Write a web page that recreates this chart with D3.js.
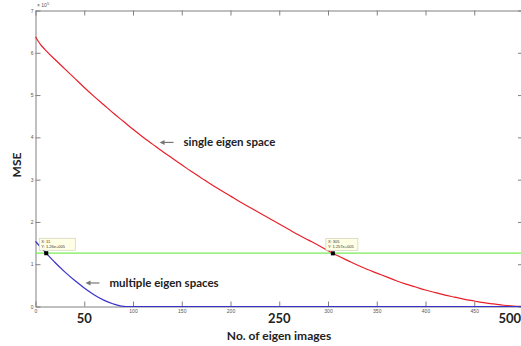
<!DOCTYPE html>
<html><head><meta charset="utf-8">
<script src="https://cdn.jsdelivr.net/npm/d3@7"></script>
<style>body{margin:0;background:#fff;overflow:hidden}</style>
</head><body><svg id="c" width="521" height="346"></svg>
<script>
// ---- data (MSE in units of 1e5) ----
const singleX = [0,5,10,20,30,40,50,60,70,80,90,100,110,120,130,140,150,160,170,180,190,200,210,220,230,240,250,260,270,280,290,300,305,310,320,330,340,350,360,370,380,390,400,410,420,430,440,450,460,470,480,490,500];
const singleY = [6.38,6.20,6.07,5.84,5.62,5.40,5.18,4.97,4.77,4.57,4.38,4.19,4.01,3.84,3.67,3.51,3.35,3.19,3.04,2.89,2.75,2.61,2.47,2.34,2.21,2.08,1.95,1.82,1.69,1.57,1.45,1.32,1.257,1.20,1.09,0.98,0.88,0.79,0.70,0.61,0.53,0.46,0.39,0.33,0.27,0.22,0.17,0.13,0.09,0.06,0.03,0.01,0];
const multiX = [0,5,11,20,30,40,50,60,70,80,88,93,150,250,350,450,500];
const multiY = [1.54,1.41,1.26,1.04,0.82,0.62,0.44,0.28,0.15,0.06,0.01,0,0,0,0,0,0];
const thresholdY = 1.26;
const tipX = [11,305];
const tipY = [1.26,1.257];
const tipText = [["X: 11","Y: 1.26e+005"],["X: 305","Y: 1.257e+005"]];
const xTicks = [0,50,100,150,200,250,300,350,400,450,500];
const bigXLabels = [50,250,500];
const yTicks = [0,1,2,3,4,5,6,7];
const xTitle = "No. of eigen images";
const yTitle = "MSE";
const annotations = [{text:"single eigen space", x:117, y:3.88}, {text:"multiple eigen spaces", x:41, y:0.556}];

// ---- drawing ----
const svg = d3.select("#c");
const x = d3.scaleLinear().domain([0,500]).range([35.5,523]);
const y = d3.scaleLinear().domain([0,7]).range([306.5,10.5]);
const axisCol = "#808080", labCol = "#555";
const smallFont = "5px";

const gx = svg.append("g").attr("transform","translate(0,306.5)")
  .call(d3.axisBottom(x).tickValues(xTicks).tickSizeInner(-5).tickSizeOuter(0).tickPadding(3)
    .tickFormat(d => bigXLabels.includes(d) ? "" : d));
const gxt = svg.append("g").attr("transform","translate(0,10.5)")
  .call(d3.axisTop(x).tickValues(xTicks).tickSizeInner(-5).tickSizeOuter(0).tickFormat(""));
const gy = svg.append("g").attr("transform","translate(35.5,0)")
  .call(d3.axisLeft(y).tickValues(yTicks).tickSizeInner(-5).tickSizeOuter(0).tickPadding(2).tickFormat(d3.format("d")));
const gyr = svg.append("g").attr("transform","translate(523,0)")
  .call(d3.axisRight(y).tickValues(yTicks).tickSizeInner(-5).tickSizeOuter(0).tickFormat(""));
[gx,gxt,gy,gyr].forEach(g => {
  g.selectAll("path,line").attr("stroke",axisCol);
  g.selectAll("text").attr("fill",labCol).style("font-family","Arial, 'Liberation Sans'").style("font-size",smallFont);
});

// exponent label
const ex = svg.append("text").attr("x",37).attr("y",7).attr("fill",labCol)
  .style("font-family","Arial, 'Liberation Sans'").style("font-size","5px");
ex.append("tspan").text("× 10");
ex.append("tspan").attr("dy",-2).style("font-size","4px").text("5");

// threshold line
svg.append("line").attr("x1",x(0)).attr("x2",x(500)).attr("y1",y(thresholdY)).attr("y2",y(thresholdY))
  .attr("stroke","#77ee55").attr("stroke-width",1.3);

const line = d3.line().x(d=>x(d[0])).y(d=>y(d[1])).curve(d3.curveMonotoneX);
svg.append("path").datum(singleX.map((v,i)=>[v,singleY[i]])).attr("d",line)
  .attr("fill","none").attr("stroke","#e8202a").attr("stroke-width",1.2);
svg.append("path").datum(multiX.map((v,i)=>[v,multiY[i]])).attr("d",line)
  .attr("fill","none").attr("stroke","#3a32cc").attr("stroke-width",1.2);

// data tips
tipX.forEach((tx,i) => {
  const px = x(tx), py = y(tipY[i]);
  const w = i===0 ? 36 : 32;
  svg.append("rect").attr("x",px-7).attr("y",py-15).attr("width",w).attr("height",12)
    .attr("fill","#ffffe6").attr("stroke","#c8c8b0").attr("stroke-width",0.6);
  tipText[i].forEach((t,j) => svg.append("text").attr("x",px-5).attr("y",py-10.5+j*5)
    .attr("fill","#333").style("font-family","Arial, 'Liberation Sans'").style("font-size","4px").text(t));
  svg.append("rect").attr("x",px-2).attr("y",py-2).attr("width",4).attr("height",4).attr("fill","#000");
});

// big bold x labels
const boldFont = "Lato, 'Open Sans', sans-serif";
bigXLabels.forEach(v => {
  const last = v === 500;
  svg.append("text").attr("x", last ? 521 : x(v)).attr("y",323).attr("text-anchor", last ? "end" : "middle")
    .attr("fill","#222").style("font-family",boldFont).style("font-weight","bold").style("font-size","13px").text(v);
});

svg.append("text").attr("x",279).attr("y",340).attr("text-anchor","middle").attr("fill","#222")
  .style("font-family",boldFont).style("font-weight","bold").style("font-size","12px").text(xTitle);
svg.append("text").attr("transform","translate(21,165) rotate(-90)").attr("text-anchor","middle").attr("fill","#222")
  .style("font-family",boldFont).style("font-weight","bold").style("font-size","12px").text(yTitle);

// annotations with arrows
annotations.forEach(a => {
  const ax = x(a.x)+10, ay = y(a.y);
  svg.append("line").attr("x1",ax+3).attr("x2",ax+14).attr("y1",ay).attr("y2",ay).attr("stroke","#777").attr("stroke-width",1.2);
  svg.append("path").attr("d",`M${ax},${ay}L${ax+5},${ay-2.5}L${ax+5},${ay+2.5}Z`).attr("fill","#777");
  svg.append("text").attr("x",ax+24).attr("y",ay+4).attr("fill","#222")
    .style("font-family",boldFont).style("font-weight","bold").style("font-size","11.5px").text(a.text);
});
</script></body></html>
